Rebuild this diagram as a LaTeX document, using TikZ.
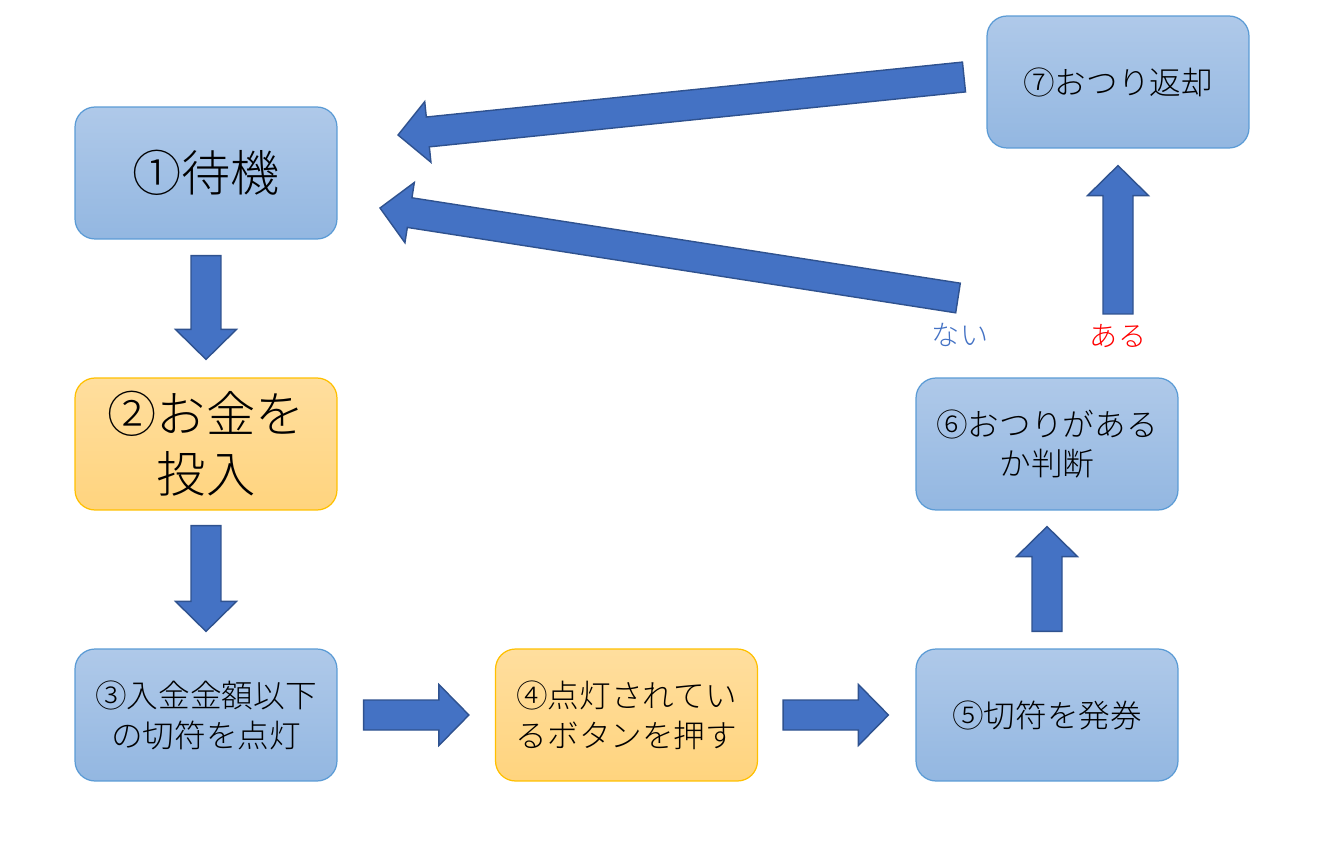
\documentclass[tikz,border=0pt]{standalone}
\usepackage{fontspec}
\setmainfont{Noto Sans CJK JP}[UprightFont=* Light]
\usetikzlibrary{calc,positioning}
\definecolor{boxtop}{HTML}{AFC9E9}
\definecolor{boxbottom}{HTML}{93B7E1}
\definecolor{boxline}{HTML}{5B9BD5}
\definecolor{acttop}{HTML}{FFDE9E}
\definecolor{actbottom}{HTML}{FFD47E}
\definecolor{actline}{HTML}{FFC000}
\definecolor{arrowfill}{HTML}{4472C4}
\definecolor{arrowline}{HTML}{2F528F}
\newcommand{\bigtext}{\fontsize{28pt}{34pt}\selectfont}
\newcommand{\smalltext}{\fontsize{18pt}{22.7pt}\selectfont}
\newcommand{\bigarrow}[4]{%
  \coordinate (ba-s) at ($(#1)!#3!(#2)$);
  \coordinate (ba-e) at ($(#2)!#4!(#1)$);
  \coordinate (ba-h) at ($(ba-e)!6mm!(ba-s)$);
  \filldraw[blockarrow] ($(ba-s)!3mm!90:(ba-e)$) -- ($(ba-h)!3mm!-90:(ba-s)$)
    -- ($(ba-h)!6.1mm!-90:(ba-s)$) -- (ba-e) -- ($(ba-h)!6.1mm!90:(ba-s)$)
    -- ($(ba-h)!3mm!90:(ba-s)$) -- ($(ba-s)!3mm!-90:(ba-e)$) -- cycle;
}
\tikzset{
  stepbox/.style={draw=boxline, line width=0.7pt, rounded corners=4mm,
    top color=boxtop, bottom color=boxbottom, minimum width=5.24cm,
    minimum height=2.64cm, inner sep=0, align=center, font=\smalltext},
  actbox/.style={stepbox, draw=actline, top color=acttop, bottom color=actbottom},
  blockarrow/.style={fill=arrowfill, draw=arrowline, line width=0.8pt}
}

\begin{document}
\begin{tikzpicture}[x=0.02cm, y=-0.02cm]
    \useasboundingbox (0,0) rectangle (1325,861);

    \node[stepbox, font=\bigtext] (wait) at (206,173) {①待機};
    \node[actbox, font=\bigtext] (coin) at (206,444) {②お金を\\投入};
    \node[stepbox] (light) at (206,715) {③入金金額以下\\の切符を点灯};
    \node[actbox] (press) at (626.5,715) {④点灯されてい\\るボタンを押す};
    \node[stepbox] (issue) at (1047,715) {⑤切符を発券};
    \node[stepbox] (judge) at (1047,444) {⑥おつりがある\\か判断};
    \node[stepbox] (change) at (1118,82) {⑦おつり返却};

    \node[text=arrowfill, font=\fontsize{16pt}{18pt}\selectfont] (nolabel) at (960,335) {ない};
    \node[text=red, font=\fontsize{16pt}{18pt}\selectfont] (yeslabel) at (1118,336) {ある};

    \coordinate (notail) at (958,298);
    \coordinate (notip) at (380,208);
    \coordinate (yestail) at (1118,314);
    \coordinate (backtail) at (964,77);
    \coordinate (backtip) at (398,135);

    \bigarrow{wait.south}{coin.north}{3.2mm}{3.6mm}
    \bigarrow{coin.south}{light.north}{3mm}{3.4mm}
    \bigarrow{light.east}{press.west}{5.2mm}{5.2mm}
    \bigarrow{press.east}{issue.west}{5mm}{5.4mm}
    \bigarrow{issue.north}{judge.south}{3.4mm}{3.2mm}
    \bigarrow{yestail}{change.south}{0pt}{3.4mm}
    \bigarrow{notail}{notip}{0pt}{0pt}
    \bigarrow{backtail}{backtip}{0pt}{0pt}
\end{tikzpicture}
\end{document}
